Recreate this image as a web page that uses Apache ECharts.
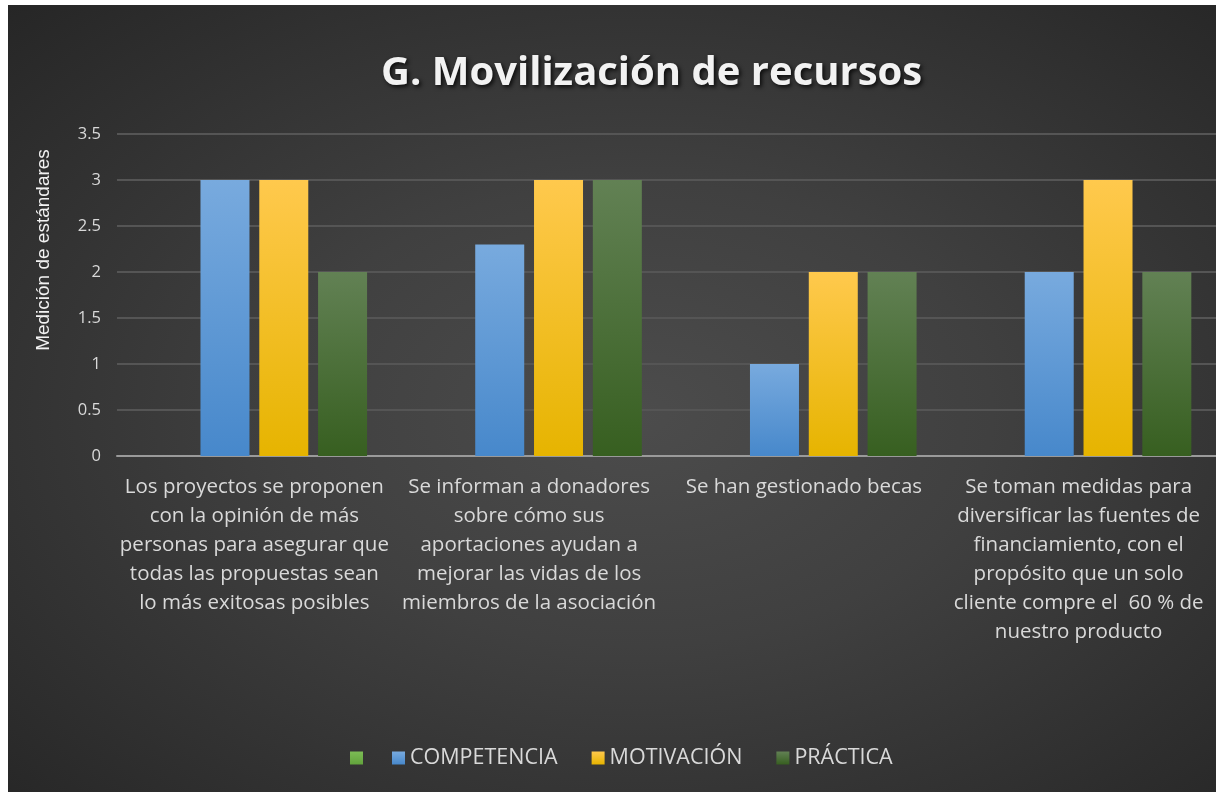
<!DOCTYPE html>
<html lang="es">
<head>
<meta charset="UTF-8">
<title>G. Movilización de recursos</title>
<script src="https://cdn.jsdelivr.net/npm/echarts@6/dist/echarts.min.js"></script>
<style>
    html, body { margin: 0; padding: 0; width: 100%; height: 100%; background: #ffffff; overflow: hidden; }
    #chart {
        position: absolute; left: 8px; top: 5px; width: 1208px; height: 787px;
        background: radial-gradient(ellipse at 52% 52%, #4c4c4c 0%, #404040 40%, #262626 100%);
    }
</style>
</head>
<body>
<div id="chart"></div>
<script>
    // datos
    const categorias = [
        'Los proyectos se proponen\ncon la opinión de más\npersonas para asegurar que\ntodas las propuestas sean\nlo más exitosas posibles',
        'Se informan a donadores\nsobre cómo sus\naportaciones ayudan a\nmejorar las vidas de los\nmiembros de la asociación',
        'Se han gestionado becas',
        'Se toman medidas para\ndiversificar las fuentes de\nfinanciamiento, con el\npropósito que un solo\ncliente compre el  60 % de\nnuestro producto'
    ];
    const serieVacia = [null, null, null, null];
    const competencia = [3, 2.3, 1, 2];
    const motivacion = [3, 3, 2, 3];
    const practica = [2, 3, 2, 2];

    function grad(top, bottom) {
        return new echarts.graphic.LinearGradient(0, 0, 0, 1, [
            { offset: 0, color: top },
            { offset: 1, color: bottom }
        ]);
    }

    const textColor = '#d9d9d9';
    const myChart = echarts.init(document.getElementById('chart'));

    function serie(name, data, color) {
        return {
            name: name,
            type: 'bar',
            data: data,
            barWidth: 49,
            barGap: '20%',
            itemStyle: {
                color: color,
                shadowColor: 'rgba(0,0,0,0.45)',
                shadowBlur: 8,
                shadowOffsetX: 2,
                shadowOffsetY: 1
            }
        };
    }

    const legendBase = {
        bottom: 18,
        icon: 'rect',
        itemWidth: 13,
        itemHeight: 13,
        itemGap: 34,
        textStyle: { color: textColor, fontSize: 21.5, fontFamily: 'Open Sans' }
    };

    const option = {
        title: {
            text: 'G. Movilización de recursos',
            left: 368,
            top: 44,
            textStyle: {
                color: '#f2f2f2',
                fontFamily: 'Open Sans',
                fontWeight: 'bold',
                fontSize: 40,
                textShadowColor: 'rgba(0,0,0,0.8)',
                textShadowBlur: 4,
                textShadowOffsetX: 2,
                textShadowOffsetY: 2
            }
        },
        legend: [
            Object.assign({}, legendBase, { left: 337, data: [' '] }),
            Object.assign({}, legendBase, { left: 379, data: ['COMPETENCIA', 'MOTIVACIÓN', 'PRÁCTICA'] })
        ],
        graphic: [{
            type: 'text',
            x: 36,
            y: 245,
            rotation: Math.PI / 2,
            style: {
                text: 'Medición de estándares',
                fill: '#f2f2f2',
                fontSize: 19,
                fontFamily: 'Liberation Sans',
                align: 'center',
                verticalAlign: 'middle'
            }
        }],
        grid: {
            left: 109,
            right: 0,
            top: 129,
            bottom: 336,
            containLabel: false
        },
        xAxis: {
            type: 'category',
            data: categorias,
            axisLine: { lineStyle: { color: '#9a9a9a', width: 2 } },
            axisTick: { show: false },
            axisLabel: {
                color: textColor,
                fontSize: 20.5,
                fontFamily: 'Open Sans',
                lineHeight: 29,
                margin: 17,
                interval: 0,
                align: 'center'
            }
        },
        yAxis: {
            type: 'value',
            min: 0,
            max: 3.5,
            interval: 0.5,
            axisLine: { show: false },
            axisTick: { show: false },
            axisLabel: { color: textColor, fontSize: 16.5, fontFamily: 'Open Sans', margin: 16 },
            splitLine: { lineStyle: { color: '#555555', width: 2 } }
        },
        series: [
            serie(' ', serieVacia, grad('#7cbc55', '#62a33c')),
            serie('COMPETENCIA', competencia, grad('#78aade', '#4788cb')),
            serie('MOTIVACIÓN', motivacion, grad('#ffc94d', '#e6b400')),
            serie('PRÁCTICA', practica, grad('#628154', '#375f20'))
        ]
    };

    myChart.setOption(option);
</script>
</body>
</html>
